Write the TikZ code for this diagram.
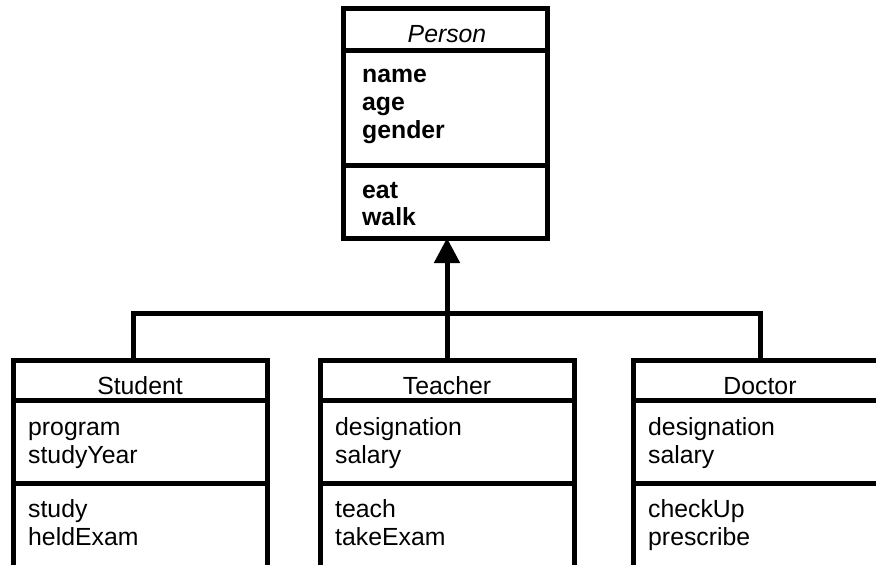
\documentclass[tikz,border=0pt]{standalone}
\usepackage{fontspec}
\setmainfont{Liberation Sans}
\usetikzlibrary{positioning,arrows.meta}

\begin{document}
\begin{tikzpicture}[x=1pt,y=-1pt,
    pbox/.style={draw,line width=5pt,inner sep=0pt,outer sep=0pt,minimum width=204},
    cbox/.style={draw,line width=5pt,inner sep=0pt,outer sep=0pt,minimum width=254},
    txt/.style={inner sep=0pt,anchor=base west,font=\fontsize{24.8}{28}\selectfont},
    btxt/.style={txt,font=\fontsize{24.8}{28}\selectfont\bfseries},
    conn/.style={line width=5pt}]
                \clip (0,0) rectangle (876,565);

                %%person
                \node[pbox, minimum height=42, anchor=north west] (ptitle) at (343,8) {};
                \node[pbox, minimum height=115, below=0pt of ptitle] (pattr) {};
                \node[pbox, minimum height=73, below=0pt of pattr] (pmeth) {};
                    \node[txt, anchor=base, font=\fontsize{24.8}{28}\selectfont\itshape] (pname) at ([shift={(2,34)}]ptitle.north) {Person};
                    \foreach \t [count=\i from 0] in {name,age,gender}
                        \node[btxt] (pa\i) at ([shift={(19,32+28*\i)}]pattr.north west) {\t};
                    \foreach \t [count=\i from 0] in {eat,walk}
                        \node[btxt] (pm\i) at ([shift={(19,33+27*\i)}]pmeth.north west) {\t};

                %%student
                \node[cbox, minimum height=40, anchor=north west] (stitle) at (13,360) {};
                \node[cbox, minimum height=83, below=0pt of stitle] (sattr) {};
                \node[cbox, minimum height=84, below=0pt of sattr] (smeth) {};
                    \node[txt, anchor=base] (sname) at ([shift={(0,34)}]stitle.north) {Student};
                    \foreach \t [count=\i from 0] in {program,studyYear}
                        \node[txt] (sa\i) at ([shift={(15,35+28*\i)}]sattr.north west) {\t};
                    \foreach \t [count=\i from 0] in {study,heldExam}
                        \node[txt] (sm\i) at ([shift={(15,34+28*\i)}]smeth.north west) {\t};

                %%teacher
                \node[cbox, minimum height=40, anchor=north west] (ttitle) at (320,360) {};
                \node[cbox, minimum height=83, below=0pt of ttitle] (tattr) {};
                \node[cbox, minimum height=84, below=0pt of tattr] (tmeth) {};
                    \node[txt, anchor=base] (tname) at ([shift={(0,34)}]ttitle.north) {Teacher};
                    \foreach \t [count=\i from 0] in {designation,salary}
                        \node[txt] (ta\i) at ([shift={(15,35+28*\i)}]tattr.north west) {\t};
                    \foreach \t [count=\i from 0] in {teach,takeExam}
                        \node[txt] (tm\i) at ([shift={(15,34+28*\i)}]tmeth.north west) {\t};

                %%doctor
                \node[cbox, minimum height=40, anchor=north west] (dtitle) at (633,360) {};
                \node[cbox, minimum height=83, below=0pt of dtitle] (dattr) {};
                \node[cbox, minimum height=84, below=0pt of dattr] (dmeth) {};
                    \node[txt, anchor=base] (dname) at ([shift={(0,34)}]dtitle.north) {Doctor};
                    \foreach \t [count=\i from 0] in {designation,salary}
                        \node[txt] (da\i) at ([shift={(15,35+28*\i)}]dattr.north west) {\t};
                    \foreach \t [count=\i from 0] in {checkUp,prescribe}
                        \node[txt] (dm\i) at ([shift={(15,34+28*\i)}]dmeth.north west) {\t};

                %%inheritance
                \coordinate (bus) at (0,313);
                \draw[conn] ([xshift=-7pt]stitle.north) -- ([xshift=-7pt]stitle.north |- bus)
                    -- (dtitle.north |- bus) -- (dtitle.north);
                \draw[conn, -{Triangle[width=25pt,length=25pt]}] (ttitle.north) -- (ttitle.north |- pmeth.south);
\end{tikzpicture}
\end{document}
